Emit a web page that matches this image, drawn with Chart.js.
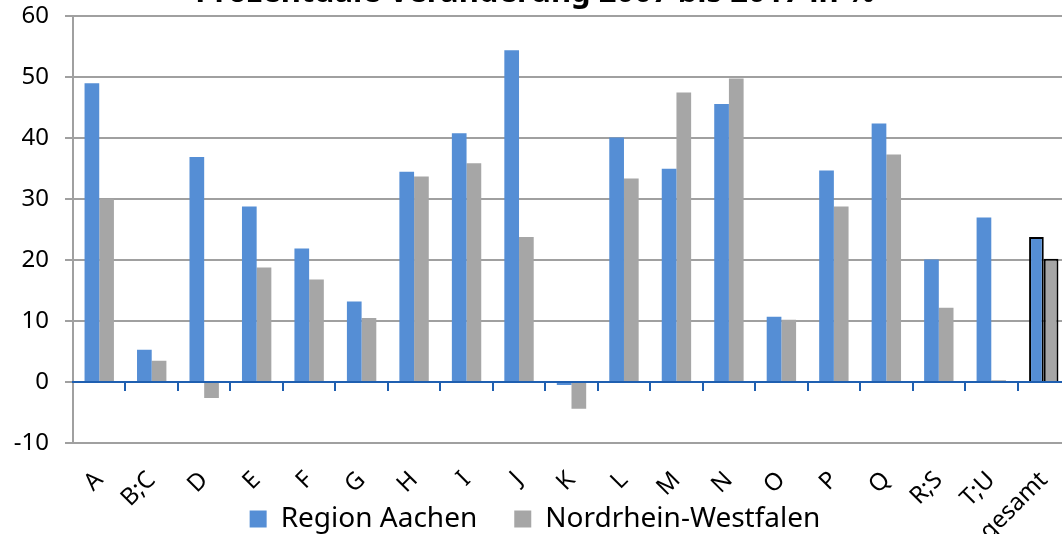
<!DOCTYPE html>
<html>
<head>
<meta charset="utf-8">
<script src="https://cdn.jsdelivr.net/npm/chart.js@4/dist/chart.umd.min.js"></script>
<style>
  html, body { margin: 0; padding: 0; background: #fff; overflow: hidden; }
  #wrap { position: absolute; left: 0; top: -25px; width: 1075px; height: 568px; }
</style>
</head>
<body>
<div id="wrap"><canvas id="grafico"></canvas></div>
<script>
// Wirtschaftszweige (Kategorien)
const kategorien = ["A", "B;C", "D", "E", "F", "G", "H", "I", "J", "K", "L", "M", "N", "O", "P", "Q", "R;S", "T;U", "gesamt"];

// Prozentuale Veränderung 2007 bis 2017
const regionAachen = [49.0, 5.3, 36.9, 28.8, 21.9, 13.2, 34.5, 40.8, 54.4, -0.5, 40.1, 35.0, 45.6, 10.7, 34.7, 42.4, 20.1, 27.0, 23.8];
const nrw = [30.0, 3.5, -2.6, 18.8, 16.8, 10.5, 33.7, 35.9, 23.8, -4.4, 33.4, 47.5, 49.8, 10.2, 28.8, 37.3, 12.2, 0.3, 20.2];

const yTicks = [-10, 0, 10, 20, 30, 40, 50, 60];

const titel = "Prozentuale Veränderung 2007 bis 2017 in %";

// gesamt bekommt schwarzen Rahmen
const rahmenFarbe = kategorien.map(k => k === "gesamt" ? "#000000" : "rgba(0,0,0,0)");
const rahmenBreite = kategorien.map(k => k === "gesamt" ? 2 : 0);

const schrift = "'Noto Sans', 'Open Sans', sans-serif";

new Chart(document.getElementById("grafico"), {
  type: "bar",
  data: {
    labels: kategorien,
    datasets: [
      {
        label: "Region Aachen",
        data: regionAachen,
        backgroundColor: "#558ED5",
        borderColor: rahmenFarbe,
        borderWidth: rahmenBreite,
        categoryPercentage: 0.56,
        barPercentage: 1.0,
      },
      {
        label: "Nordrhein-Westfalen",
        data: nrw,
        backgroundColor: "#A6A6A6",
        borderColor: rahmenFarbe,
        borderWidth: rahmenBreite,
        categoryPercentage: 0.56,
        barPercentage: 1.0,
      },
    ],
  },
  options: {
    responsive: true,
    maintainAspectRatio: false,
    animation: false,
    layout: { padding: { left: 0, right: 5, top: 0, bottom: 0 } },
    plugins: {
      title: {
        display: true,
        text: titel,
        color: "#000",
        font: { family: schrift, size: 31, weight: "bold" },
        padding: { top: 0, bottom: 4 },
      },
      legend: {
        position: "bottom",
        labels: {
          color: "#000",
          font: { family: schrift, size: 28 },
          boxWidth: 17,
          boxHeight: 17,
          padding: 37,
        },
      },
      tooltip: { enabled: false },
    },
    scales: {
      x: {
        offset: true,
        grid: { display: false, tickLength: 18 },
        border: { display: false },
        ticks: {
          color: "#000",
          font: { family: schrift, size: 24 },
          minRotation: 45,
          maxRotation: 45,
          padding: 5,
          autoSkip: false,
        },
        afterFit: function (s) { s.height = 25; },
        // Beschriftung darf in den Legendenbereich ragen (nicht abschneiden)
        afterUpdate: function (s) { s._computeLabelArea = function () { return undefined; }; },
      },
      // Nulllinie mit Teilstrichen
      x2: {
        type: "category",
        labels: kategorien,
        position: { y: 0 },
        offset: true,
        grid: {
          offset: true,
          drawOnChartArea: false,
          color: "#1F5FB0",
          lineWidth: 2,
          tickLength: 8,
        },
        border: { display: true, color: "#1F5FB0", width: 2, z: 1 },
        ticks: { display: false },
      },
      y: {
        min: -10,
        max: 60,
        afterBuildTicks: function (s) { s.ticks = yTicks.map(v => ({ value: v })); },
        afterFit: function (s) { s.width = 73; },
        grid: { color: "#A0A0A0", lineWidth: 2, tickLength: 8 },
        border: { color: "#A0A0A0", width: 2 },
        ticks: {
          color: "#000",
          font: { family: schrift, size: 24 },
          padding: 16,
        },
      },
    },
  },
});
</script>
</body>
</html>
